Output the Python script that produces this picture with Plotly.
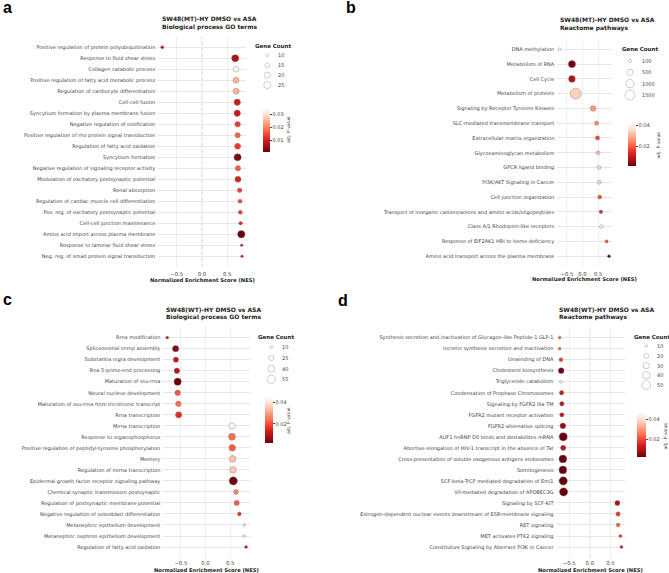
import math
import plotly.graph_objects as go

W, H = 669, 573

# ---------------- data ----------------
terms_a = [
    "Positive regulation of protein polyubiquitination",
    "Response to fluid shear stress",
    "Collagen catabolic process",
    "Positive regulation of fatty acid metabolic process",
    "Regulation of cardiocyte differentiation",
    "Cell-cell fusion",
    "Syncytium formation by plasma membrane fusion",
    "Negative regulation of ossification",
    "Positive regulation of rho protein signal transduction",
    "Regulation of fatty acid oxidation",
    "Syncytium formation",
    "Negative regulation of signaling receptor activity",
    "Modulation of excitatory postsynaptic potential",
    "Renal absorption",
    "Regulation of cardiac muscle cell differentiation",
    "Pos. reg. of excitatory postsynaptic potential",
    "Cell-cell junction maintenance",
    "Amino acid import across plasma membrane",
    "Response to laminar fluid shear stress",
    "Neg. reg. of smad protein signal transduction",
]
nes_a = [-0.786, 0.66, 0.674, 0.674, 0.68, 0.70, 0.70, 0.707, 0.707, 0.707,
         0.707, 0.714, 0.714, 0.747, 0.754, 0.76, 0.767, 0.78, 0.787, 0.794]
count_a = [11, 25, 18, 20, 20, 21, 21, 18, 17, 20, 25, 17, 20, 15, 13, 13, 12, 26, 10, 10]
padj_a = [0.008, 0.006, 0.034, 0.025, 0.025, 0.009, 0.009, 0.013, 0.017, 0.013,
          0.0025, 0.016, 0.010, 0.014, 0.014, 0.013, 0.011, 0.0008, 0.010, 0.010]

terms_b = [
    "DNA methylation",
    "Metabolism of RNA",
    "Cell Cycle",
    "Metabolism of proteins",
    "Signaling by Receptor Tyrosine Kinases",
    "SLC-mediated transmembrane transport",
    "Extracellular matrix organization",
    "Glycosaminoglycan metabolism",
    "GPCR ligand binding",
    "PI3K/AKT Signaling in Cancer",
    "Cell junction organization",
    "Transport of inorganic cations/anions and amino acids/oligopeptides",
    "Class A/1 Rhodopsin-like receptors",
    "Response of EIF2AK1 HRI to heme deficiency",
    "Amino acid transport across the plasma membrane",
]
nes_b = [-0.73, -0.34, -0.34, -0.22, 0.34, 0.45, 0.48, 0.50, 0.53, 0.54,
         0.55, 0.59, 0.60, 0.77, 0.85]
count_b = [70, 760, 630, 1830, 430, 220, 220, 180, 180, 180, 180, 140, 140, 100, 70]
padj_b = [0.041, 0.002, 0.0074, 0.034, 0.027, 0.025, 0.017, 0.031, 0.035, 0.034,
          0.018, 0.0135, 0.038, 0.0185, 0.001]

terms_c = [
    "Rrna modification",
    "Spliceosomal snrnp assembly",
    "Substantia nigra development",
    "Rna 5-prime-end processing",
    "Maturation of ssu-rrna",
    "Neural nucleus development",
    "Maturation of ssu-rrna from tricistronic transcript",
    "Rrna transcription",
    "Mirna transcription",
    "Response to organophosphorus",
    "Positive regulation of peptidyl-tyrosine phosphorylation",
    "Memory",
    "Regulation of mirna transcription",
    "Epidermal growth factor receptor signaling pathway",
    "Chemical synaptic transmission postsynaptic",
    "Regulation of postsynaptic membrane potential",
    "Negative regulation of osteoblast differentiation",
    "Metanephric epithelium development",
    "Metanephric nephron epithelium development",
    "Regulation of fatty acid oxidation",
]
nes_c = [-0.776, -0.606, -0.60, -0.58, -0.565, -0.565, -0.55, -0.545, 0.537, 0.537,
         0.543, 0.55, 0.557, 0.563, 0.618, 0.633, 0.686, 0.788, 0.782, 0.822]
count_c = [11, 34, 25, 28, 43, 28, 28, 34, 34, 40, 37, 37, 37, 55, 23, 25, 16, 11, 11, 11]
padj_c = [0.011, 0.0044, 0.011, 0.0104, 0.0019, 0.0207, 0.0237, 0.0155, 0.044, 0.0237,
          0.0215, 0.0348, 0.0357, 0.0027, 0.0262, 0.0215, 0.0164, 0.0405, 0.0405, 0.0096]

terms_d = [
    "Synthesis secretion and inactivation of Glucagon-like Peptide-1 GLP-1",
    "Incretin synthesis secretion and inactivation",
    "Unwinding of DNA",
    "Cholesterol biosynthesis",
    "Triglyceride catabolism",
    "Condensation of Prophase Chromosomes",
    "Signaling by FGFR2 IIIa TM",
    "FGFR2 mutant receptor activation",
    "FGFR2 alternative splicing",
    "AUF1 hnRNP D0 binds and destabilizes mRNA",
    "Abortive elongation of HIV-1 transcript in the absence of Tat",
    "Cross-presentation of soluble exogenous antigens endosomes",
    "Somitogenesis",
    "SCF-beta-TrCP mediated degradation of Emi1",
    "Vif-mediated degradation of APOBEC3G",
    "Signaling by SCF-KIT",
    "Estrogen-dependent nuclear events downstream of ESR-membrane signaling",
    "RET signaling",
    "MET activates PTK2 signaling",
    "Constitutive Signaling by Aberrant PI3K in Cancer",
]
nes_d = [-0.734, -0.734, -0.70, -0.695, -0.70, -0.685, -0.678, -0.678, -0.654, -0.646,
         -0.646, -0.654, -0.654, -0.646, -0.637, 0.67, 0.686, 0.686, 0.743, 0.767]
count_d = [11, 11, 15, 25, 11, 17, 17, 17, 25, 44, 22, 41, 41, 46, 46, 21, 17, 15, 12, 11]
padj_d = [0.0227, 0.0227, 0.018, 0.0018, 0.0455, 0.0118, 0.010, 0.011, 0.0054, 0.0014,
          0.0105, 0.0012, 0.0012, 0.0012, 0.0012, 0.0077, 0.0172, 0.0227, 0.017, 0.010]

legend_counts_a = [10, 15, 20, 25]
legend_counts_b = [100, 500, 1000, 1500]
legend_counts_c = [10, 25, 40, 55]
legend_counts_d = [10, 20, 30, 40, 50]

cbar_ticks_a = [0.01, 0.02, 0.03]
cbar_ticks_b = [0.02, 0.04]
cbar_ticks_c = [0.02, 0.04]
cbar_ticks_d = [0.02, 0.04]

titles = [
    ("SW48(MT)-HY DMSO vs ASA", "Biological process GO terms"),
    ("SW48(MT)-HY DMSO vs ASA", "Reactome pathways"),
    ("SW48(WT)-HY DMSO vs ASA", "Biological process GO terms"),
    ("SW48(WT)-HY DMSO vs ASA", "Reactome pathways"),
]
letters = ["a", "b", "c", "d"]
x_title = "Normalized Enrichment Score (NES)"
x_ticks = [-0.5, 0.0, 0.5]

# ---------------- style ----------------
REDS = ["#fff5f0", "#fee0d2", "#fcbba1", "#fc9272", "#fb6a4a",
        "#ef3b2c", "#cb181d", "#a50f15", "#67000d"]
REDS_R = [[i / 8, c] for i, c in enumerate(REDS[::-1])]
FONT = "DejaVu Sans"
TXT = "#444444"


def fx(p):
    return p / W


def fy(p):
    return 1 - p / H


def size_map(counts, c_lo, c_hi, d_lo, d_hi):
    out = []
    for c in counts:
        a = d_lo ** 2 + (c - c_lo) / (c_hi - c_lo) * (d_hi ** 2 - d_lo ** 2)
        out.append(math.sqrt(max(a, 2.0)))
    return out


panels = [
    dict(terms=terms_a, nes=nes_a, cnt=count_a, p=padj_a, box=(158.3, 246, 36.8, 266.7),
         smap=(10, 25, 2.7, 7.2), leg=legend_counts_a, leg_pos=(267.3, 275.5, 272.5, 46, 55.5, 85),
         cb=(263, 109, 7, 43), cbt=cbar_ticks_a, cbtitle=(288, 130),
         title_pos=(160, 18.3, 26.7), letter_pos=(1, 8), xt_y=279.8, xstand=3),
    dict(terms=terms_b, nes=nes_b, cnt=count_b, p=padj_b, box=(557.3, 611.5, 39, 266.5),
         smap=(100, 1500, 3.3, 10.0), leg=legend_counts_b, leg_pos=(630, 639.5, 639.5, 49.3, 61, 95),
         cb=(627.7, 124.3, 8, 42), cbt=cbar_ticks_b, cbtitle=(657.5, 145),
         title_pos=(558.3, 19.3, 28), letter_pos=(344, 8), xt_y=279, xstand=3),
    dict(terms=terms_c, nes=nes_c, cnt=count_c, p=padj_c, box=(163.3, 250, 327.2, 557.5),
         smap=(10, 55, 2.6, 8.3), leg=legend_counts_c, leg_pos=(271.3, 279.5, 276.3, 337.3, 347.3, 379.3),
         cb=(265.3, 398.3, 7.7, 45), cbt=cbar_ticks_c, cbtitle=(288, 421),
         title_pos=(164, 309.3, 317.3), letter_pos=(1, 299), xt_y=570.3, xstand=1),
    dict(terms=terms_d, nes=nes_d, cnt=count_d, p=padj_d, box=(556.5, 624.5, 327.2, 557.5),
         smap=(10, 50, 2.6, 8.7), leg=legend_counts_d, leg_pos=(646.3, 654.5, 651.5, 336.7, 346, 385),
         cb=(637.3, 414.3, 8.7, 43), cbt=cbar_ticks_d, cbtitle=(664.5, 436),
         title_pos=(556.7, 309.3, 317.3), letter_pos=(336, 300), xt_y=570.3, xstand=1),
]

fig = go.Figure()
layout = dict(
    width=W, height=H, margin=dict(l=0, r=0, t=0, b=0),
    paper_bgcolor="white", plot_bgcolor="white", showlegend=False,
    font=dict(family=FONT, color=TXT, size=5),
)
annotations = []
shapes = []

for i, P in enumerate(panels):
    k = i + 1
    kl = i + 5
    sfx = "" if k == 1 else str(k)
    sfl = str(kl)
    x0, x1, y0, y1 = P["box"]
    n = len(P["terms"])
    lo, hi = min(P["nes"]), max(P["nes"])
    mx = 0.05 * (hi - lo)
    my = 0.05 * (n - 1)
    sizes = size_map(P["cnt"], *P["smap"])
    pmin, pmax = min(P["p"]), max(P["p"])

    fig.add_trace(go.Scatter(
        x=P["nes"], y=P["terms"], mode="markers",
        xaxis="x" + sfx, yaxis="y" + sfx,
        marker=dict(size=sizes, color=P["p"], coloraxis="coloraxis" + sfx,
                    line=dict(color="#7a7a7a", width=0.4), opacity=1),
        cliponaxis=False, hoverinfo="skip",
    ))

    layout["xaxis" + sfx] = dict(
        domain=[fx(x0), fx(x1)], anchor="y" + sfx, range=[lo - mx, hi + mx],
        tickvals=x_ticks, tickformat=".1f", showgrid=True, gridcolor="#efefef",
        gridwidth=0.8, zeroline=False, showline=False, ticks="",
        ticklabelstandoff=P["xstand"],
        tickfont=dict(size=5.3, color=TXT, family=FONT), fixedrange=True,
    )
    layout["yaxis" + sfx] = dict(
        domain=[fy(y1), fy(y0)], anchor="x" + sfx, type="category",
        categoryorder="array", categoryarray=P["terms"],
        range=[n - 1 + my, -my], showgrid=True, gridcolor="#e6e6e6", gridwidth=1,
        zeroline=False, showline=False, ticks="", ticklabelstandoff=2,
        tickfont=dict(size=5, color=TXT, family=FONT), fixedrange=True,
    )
    cbx, cby, cbw, cbh = P["cb"]
    layout["coloraxis" + sfx] = dict(
        colorscale=REDS_R, cmin=pmin, cmax=pmax,
        colorbar=dict(
            x=fx(cbx), xanchor="left", xpad=0, y=fy(cby), yanchor="top", ypad=0,
            len=cbh, lenmode="pixels", thickness=cbw, thicknessmode="pixels",
            tickvals=P["cbt"], ticktext=["%.2f" % v for v in P["cbt"]],
            tickfont=dict(size=5, color=TXT, family=FONT), ticks="outside",
            ticklen=2, tickwidth=0.5, tickcolor=TXT, outlinewidth=0,
        ),
    )
    # zero reference line
    shapes.append(dict(type="line", xref="x" + sfx, yref="y" + sfx + " domain",
                       x0=0, x1=0, y0=0, y1=1,
                       line=dict(color="#a8a8a8", width=0.8, dash="dot"), layer="below"))

    # size legend on hidden axes (x units = pixels)
    cx, lx, tx, ty, iy0, iy1 = P["leg_pos"]
    nl = len(P["leg"])
    fig.add_trace(go.Scatter(
        x=[0] * nl, y=list(range(nl)), mode="markers",
        xaxis="x" + sfl, yaxis="y" + sfl,
        marker=dict(size=size_map(P["leg"], *P["smap"]), color="white",
                    line=dict(color="#8a8a8a", width=0.6)),
        cliponaxis=False, hoverinfo="skip",
    ))
    right = min(W, cx + 25)
    layout["xaxis" + sfl] = dict(domain=[fx(cx - 5), fx(right)], anchor="y" + sfl,
                                 range=[-5, right - cx], visible=False, fixedrange=True)
    layout["yaxis" + sfl] = dict(domain=[fy(iy1), fy(iy0)], anchor="x" + sfl,
                                 range=[nl - 1, 0], visible=False, fixedrange=True)
    for j, c in enumerate(P["leg"]):
        annotations.append(dict(xref="x" + sfl, yref="y" + sfl, x=lx - cx, y=j,
                                text=str(c), showarrow=False, xanchor="left",
                                yanchor="middle", font=dict(size=5, color=TXT, family=FONT)))
    annotations.append(dict(xref="paper", yref="paper", x=fx(tx), y=fy(ty),
                            text="<b>Gene Count</b>", showarrow=False, xanchor="center",
                            yanchor="middle", font=dict(size=5.5, color="#222", family=FONT)))
    # colorbar title
    ctx, cty = P["cbtitle"]
    annotations.append(dict(xref="paper", yref="paper", x=fx(ctx), y=fy(cty),
                            text="adj. P-value", showarrow=False, textangle=-90,
                            xanchor="center", yanchor="middle",
                            font=dict(size=4.6, color=TXT, family=FONT)))
    # panel title
    tx0, t1y, t2y = P["title_pos"]
    for line, yy in zip(titles[i], (t1y, t2y)):
        annotations.append(dict(xref="paper", yref="paper", x=fx(tx0), y=fy(yy),
                                text="<b>%s</b>" % line, showarrow=False, xanchor="left",
                                yanchor="middle", font=dict(size=6, color="#222", family=FONT)))
    # x-axis title
    annotations.append(dict(xref="paper", yref="paper", x=fx((x0 + x1) / 2), y=fy(P["xt_y"]),
                            text="<b>%s</b>" % x_title, showarrow=False, xanchor="center",
                            yanchor="middle", font=dict(size=5.2, color="#222", family=FONT)))
    # panel letter
    lx0, ly0 = P["letter_pos"]
    annotations.append(dict(xref="paper", yref="paper", x=fx(lx0), y=fy(ly0),
                            text="<b>%s</b>" % letters[i], showarrow=False, xanchor="left",
                            yanchor="middle",
                            font=dict(size=16, color="#000", family="Liberation Sans")))

layout["annotations"] = annotations
layout["shapes"] = shapes
fig.update_layout(**layout)
fig.write_html("out.html")
